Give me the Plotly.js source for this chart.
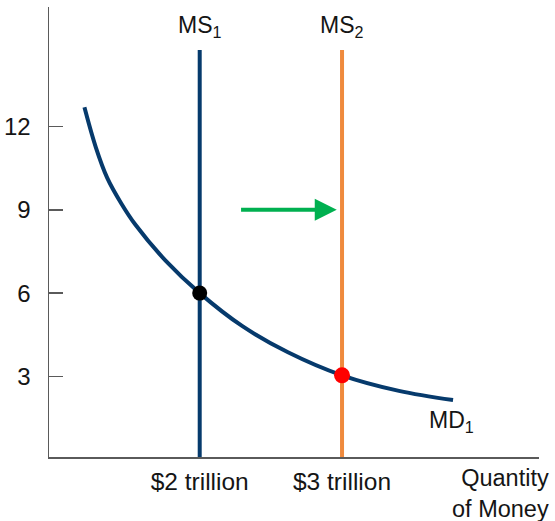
<!DOCTYPE html>
<html>
<head>
<meta charset="utf-8">
<script src="https://cdn.plot.ly/plotly-3.0.1.min.js"></script>
<style>html,body{margin:0;padding:0;background:#fff;}#chart{width:555px;height:521px;}</style>
</head>
<body>
<div id="chart"></div>
<script>
// Money demand curve MD1 (quantity of money in $ trillion, interest rate %)
const mdX = [1.19, 1.27, 1.35, 1.45, 1.55, 1.76, 2.00, 2.30, 2.62, 3.00, 3.40, 3.78];
const mdY = [12.69, 11.25, 10.15, 9.22, 8.45, 7.17, 6.00, 4.81, 3.87, 3.04, 2.48, 2.15];
// Money supply curves (vertical)
const ms1X = [2, 2];
const ms2X = [3, 3];
const msY = [0.1, 14.75];
// Equilibrium points
const eq1 = {x: [2], y: [6]};
const eq2 = {x: [3], y: [3.04]};
// Shift arrow (start -> end)
const arrowX = [2.28, 2.963];
const arrowY = [9, 9];
// Tick labels
const yTicks = [3, 6, 9, 12];
const xTickVals = [2, 3];
const xTickText = ['$2 trillion', '$3 trillion'];

const navy = '#063a6c';
const orange = '#ef8a3d';
const green = '#00b050';
const txt = '#151515';
const F = 'Liberation Sans, Arial, sans-serif';

const traces = [
  {x: mdX, y: mdY, mode: 'lines', line: {color: navy, width: 4, shape: 'spline', smoothing: 1}, hoverinfo: 'skip'},
  {x: ms1X, y: msY, mode: 'lines', line: {color: navy, width: 4}, hoverinfo: 'skip'},
  {x: ms2X, y: msY, mode: 'lines', line: {color: orange, width: 4}, hoverinfo: 'skip'},
  {x: eq1.x, y: eq1.y, mode: 'markers', marker: {color: '#000', size: 15}, hoverinfo: 'skip'},
  {x: eq2.x, y: eq2.y, mode: 'markers', marker: {color: '#ff0000', size: 16}, hoverinfo: 'skip'}
];

const layout = {
  width: 555, height: 521,
  margin: {l: 49, r: 16, t: 7, b: 64},
  paper_bgcolor: '#fff', plot_bgcolor: '#fff',
  showlegend: false,
  font: {family: F, size: 24, color: txt},
  xaxis: {
    range: [0.941, 4.384],
    showgrid: false, zeroline: false,
    showline: true, linecolor: '#5a5a5a', linewidth: 1.5,
    tickvals: xTickVals, ticktext: xTickText, ticks: '',
    ticklabelstandoff: 2,
    tickfont: {family: F, size: 24.5, color: txt}
  },
  yaxis: {
    range: [0.1, 16.3],
    showgrid: false, zeroline: false,
    showline: true, linecolor: '#5a5a5a', linewidth: 1.5,
    tickvals: yTicks, ticks: 'inside', ticklen: 14, tickwidth: 1.5, tickcolor: '#5a5a5a',
    ticklabelstandoff: 12,
    tickfont: {family: F, size: 24, color: txt}
  },
  annotations: [
    {x: 2, y: 15.6, xref: 'x', yref: 'y', text: 'MS<sub>1</sub>', showarrow: false, font: {size: 23, color: txt}},
    {x: 3, y: 15.6, xref: 'x', yref: 'y', text: 'MS<sub>2</sub>', showarrow: false, font: {size: 23, color: txt}},
    {x: 3.766, y: 1.39, xref: 'x', yref: 'y', text: 'MD<sub>1</sub>', showarrow: false, font: {size: 23, color: txt}},
    {x: 1.024, y: -0.081, xref: 'paper', yref: 'paper', xanchor: 'right', yanchor: 'middle', align: 'right',
     text: 'Quantity<br>of Money', showarrow: false, font: {size: 23.5, color: txt}},
    {x: arrowX[1], y: arrowY[1], ax: arrowX[0], ay: arrowY[0], xref: 'x', yref: 'y', axref: 'x', ayref: 'y',
     text: '', showarrow: true, arrowhead: 2, arrowsize: 1.1, arrowwidth: 4, arrowcolor: green, standoff: 0}
  ]
};

Plotly.newPlot('chart', traces, layout, {displayModeBar: false, staticPlot: true});
</script>
</body>
</html>
